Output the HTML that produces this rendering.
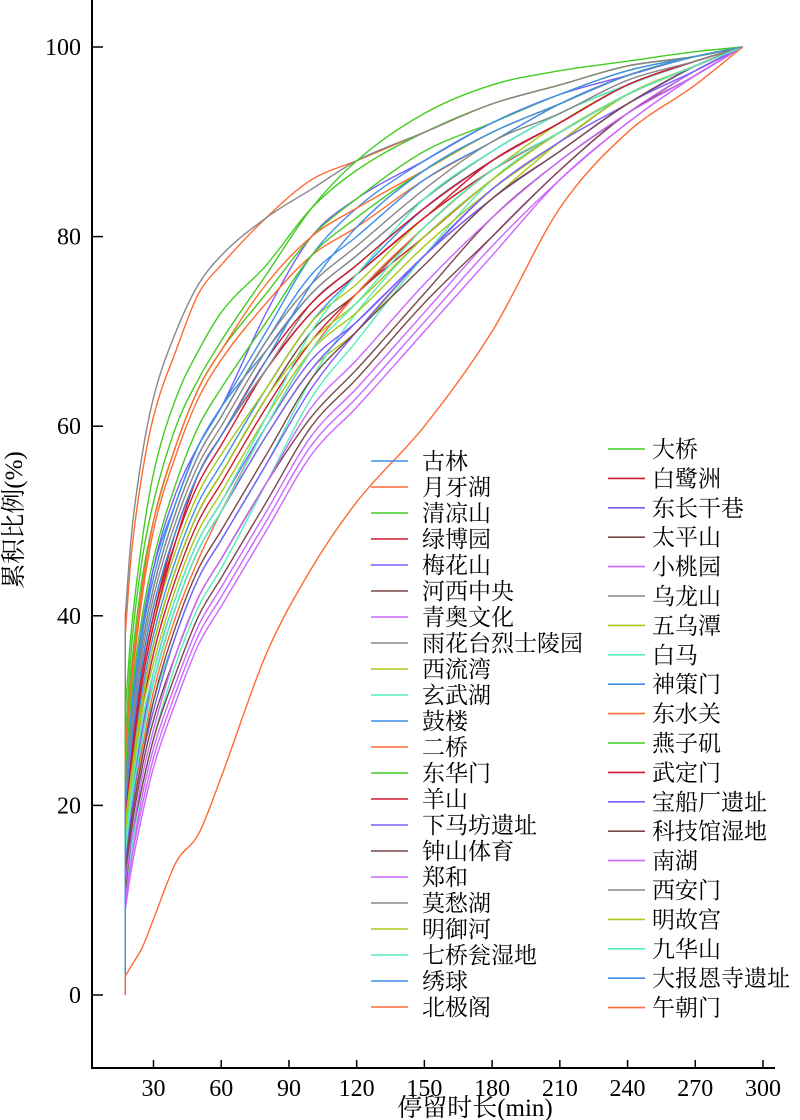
<!DOCTYPE html>
<html><head><meta charset="utf-8"><style>
html,body{margin:0;padding:0;background:#fff;}
svg{display:block;}
text{font-family:"Liberation Serif","Noto Serif CJK SC","Noto Sans CJK SC",serif;fill:#000;}
</style></head><body>
<svg id="chart" width="800" height="1120" viewBox="0 0 800 1120" xmlns="http://www.w3.org/2000/svg">
<g id="series"></g>
<g id="axes"></g>
<g id="legend"></g>
</svg>
<script>
const times = [17.5,20,25,30,40,50,60,80,100,120,150,180,210,240,270,291];
const names = ["古林","月牙湖","清凉山","绿博园","梅花山","河西中央","青奥文化","雨花台烈士陵园","西流湾","玄武湖","鼓楼","二桥","东华门","羊山","下马坊遗址","钟山体育","郑和","莫愁湖","明御河","七桥瓮湿地","绣球","北极阁","大桥","白鹭洲","东长干巷","太平山","小桃园","乌龙山","五乌潭","白马","神策门","东水关","燕子矶","武定门","宝船厂遗址","科技馆湿地","南湖","西安门","明故宫","九华山","大报恩寺遗址","午朝门"];
const palette = ["#3f8fe8","#ff6a30","#44cc22","#d01830","#7b5cff","#7a4848","#cc66ff","#888888","#a8c818","#55eebb"];
const s01=[24,30,39,45,52,58,62,68,74,78,84,89,93,96,98.5,100];
const s02=[38,46,55,61,68,74,77,82,86,88,91,94,96,98,99,100];
const s03=[30,38,48,55,63,68,72,77,83,87,91,94,96,98,99,100];
const s04=[20,26,34,40,48,54,58,66,72,76,82,88,92,96,98.5,100];
const s05=[22,28,38,45,53,58,62,72,80,84,88,92,95,97,99,100];
const s06=[12,17,24,29,36,42,46,54,61,66,74,82,88,93,97.5,100];
const s07=[9,13,19,24,31,37,41,49,57,62,70,78,86,92,97,100];
const s08=[40,48,57,63,70,75,78,82,85,88,91,94,96,98,99,100];
const s09=[15,20,28,33,41,47,51,59,66,70,78,84,90,95,98,100];
const s10=[14,19,26,31,38,44,48,56,65,72,80,86,91,95,98,100];
const s11=[18,24,32,38,46,52,56,64,71,76,83,88,92,96,98.5,100];
const s12=[25,32,42,49,57,63,67,73,78,81,86,90,94,97,99,100];
const s13=[26,34,44,50,58,64,68,74,80,84,89,92,95,97.5,99,100];
const s14=[16,22,30,36,44,50,54,62,69,74,80,86,91,95,98,100];
const s15=[13,18,25,30,38,44,48,56,64,70,78,85,90,95,98,100];
const s16=[17,23,31,37,45,51,55,63,70,74,81,87,91,95,98,100];
const s17=[10,14,21,26,33,39,43,51,59,64,72,80,87,93,97.5,100];
const s18=[21,27,36,42,50,56,60,68,74,78,84,89,93,96,98.5,100];
const s19=[19,25,33,39,47,53,57,64,71,75,82,87,92,96,98.5,100];
const s20=[11,15,22,27,35,41,45,54,63,69,78,86,91,95,98,100];
const s21=[23,29,38,44,52,58,62,70,78,83,88,92,95,97.5,99,100];
const s22=[14,19,26,32,40,46,51,60,68,74,81,87,91,95,98,100];
const s23=[27,36,46,52,60,65,69,76,83,88,93,96,97.5,98.5,99.5,100];
const s24=[18,24,33,39,48,55,59,66,72,76,82,87,91,95,98,100];
const s25=[15,20,28,34,42,48,52,60,67,71,78,84,89,94,97.5,100];
const s26=[11,16,22,27,34,40,44,52,60,65,73,80,87,93,97,100];
const s27=[12,16,23,28,36,42,46,54,62,67,75,82,88,93,97,100];
const s28=[20,26,35,41,49,55,59,66,73,77,83,88,92,96,98.5,100];
const s29=[17,22,30,35,43,49,53,61,68,72,79,85,90,95,98,100];
const s30=[16,21,29,34,42,48,52,61,70,76,84,89,93,96,98.5,100];
const s31=[21,28,37,43,51,57,61,69,76,80,86,90,94,97,99,100];
const s32=[26,33,43,50,58,64,68,75,80,83,87,91,94,97,99,100];
const s33=[24,31,40,46,54,60,64,71,78,82,87,91,94,97,99,100];
const s34=[19,25,34,40,49,55,59,67,73,77,83,88,92,96,98.5,100];
const s35=[14,19,27,33,41,47,51,59,66,71,78,85,90,94,98,100];
const s36=[13,18,25,31,39,45,49,57,65,70,77,84,89,94,98,100];
const s37=[10,14,20,25,32,38,42,50,58,63,71,79,86,92,97,100];
const s38=[22,28,37,43,51,57,61,69,75,79,85,90,93,96.5,98.5,100];
const s39=[18,23,31,37,45,51,55,63,69,73,80,86,91,95,98,100];
const s40=[15,20,27,33,41,47,51,60,68,73,81,87,91,95,98,100];
const s41=[20,26,35,41,49,55,59,67,75,81,87,91,94,97,99,100];
const s42=[2,3,5,8,14,17,23,36,45,52,60,70,83,91,96,100];
const seriesValues=[s01,s02,s03,s04,s05,s06,s07,s08,s09,s10,s11,s12,s13,s14,s15,s16,s17,s18,s19,s20,s21,s22,s23,s24,s25,s26,s27,s28,s29,s30,s31,s32,s33,s34,s35,s36,s37,s38,s39,s40,s41,s42];
const xTicks=[30,60,90,120,150,180,210,240,270,300];
const yTicks=[0,20,40,60,80,100];

const NS="http://www.w3.org/2000/svg";
function xs(t){return 153.5+(t-30)*(763-153.5)/270;}
function ys(v){return 995-v*9.48;}
function mk(tag,attrs,parent){const e=document.createElementNS(NS,tag);for(const k in attrs)e.setAttribute(k,attrs[k]);parent.appendChild(e);return e;}

function monoPath(X,Y){
  const n=X.length,d=[],m=new Array(n);
  for(let i=0;i<n-1;i++)d.push((Y[i+1]-Y[i])/(X[i+1]-X[i]));
  m[0]=d[0];m[n-1]=d[n-2];
  for(let i=1;i<n-1;i++){m[i]=(d[i-1]*d[i]<=0)?0:(d[i-1]+d[i])/2;}
  for(let i=0;i<n-1;i++){if(d[i]===0){m[i]=0;m[i+1]=0;continue;}const a=m[i]/d[i],b=m[i+1]/d[i],s=a*a+b*b;if(s>9){const tt=3/Math.sqrt(s);m[i]=tt*a*d[i];m[i+1]=tt*b*d[i];}}
  let p="";
  for(let i=0;i<n-1;i++){const h=X[i+1]-X[i];
    p+=` C${(X[i]+h/3).toFixed(2)},${(Y[i]+m[i]*h/3).toFixed(2)} ${(X[i+1]-h/3).toFixed(2)},${(Y[i+1]-m[i+1]*h/3).toFixed(2)} ${X[i+1].toFixed(2)},${Y[i+1].toFixed(2)}`;}
  return p;
}

const gS=document.getElementById('series');
seriesValues.forEach((vals,i)=>{
  const X=times.map(xs),Y=vals.map(ys);
  const d=`M${xs(times[0]).toFixed(2)},${ys(0).toFixed(2)} L${X[0].toFixed(2)},${Y[0].toFixed(2)}`+monoPath(X,Y);
  const p=mk('path',{d:d,fill:'none',stroke:palette[i%10],'stroke-width':1.4},gS);
  
  
});

const gA=document.getElementById('axes');
const yAxis=mk('line',{x1:92,y1:0,x2:92,y2:1069,stroke:'#000','stroke-width':2},gA);


const xAxis=mk('line',{x1:91,y1:1068,x2:775,y2:1068,stroke:'#000','stroke-width':2},gA);


xTicks.forEach(t=>{
  const l=mk('line',{x1:xs(t),y1:1068,x2:xs(t),y2:1060,stroke:'#000','stroke-width':1.5},gA);
  
  
  const tx=mk('text',{x:xs(t),y:1096,'font-size':24,'text-anchor':'middle'},gA);
  tx.textContent=t;
  
  
});
yTicks.forEach(v=>{
  const l=mk('line',{x1:92,y1:ys(v),x2:103,y2:ys(v),stroke:'#000','stroke-width':1.5},gA);
  
  
  const tx=mk('text',{x:81,y:ys(v)+8,'font-size':24,'text-anchor':'end'},gA);
  tx.textContent=v;
  
  
});
const xt=mk('text',{x:475,y:1116,'font-size':25,'text-anchor':'middle'},gA);
xt.textContent='停留时长(min)';


const yt=mk('text',{x:0,y:0,'font-size':25,'text-anchor':'middle',transform:'translate(22,520) rotate(-90)'},gA);
yt.textContent='累积比例(%)';



const gL=document.getElementById('legend');
names.forEach((nm,i)=>{
  let lx,ly;
  if(i<22){lx=371;ly=461+i*26;}else{lx=608;ly=449+(i-22)*29.4;}
  const g=mk('g',{},gL);
  
  
  mk('line',{x1:lx,y1:ly,x2:lx+37,y2:ly,stroke:palette[i%10],'stroke-width':1.6},g);
  const tx=mk('text',{x:lx+(i<22?51:44),y:ly+8,'font-size':23},g);
  tx.textContent=nm;
});
</script>
</body></html>
